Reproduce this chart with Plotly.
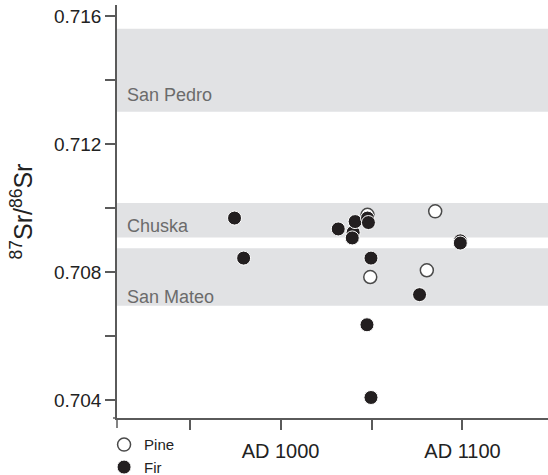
import plotly.graph_objects as go

# Data
pine_year = [1047.8, 1049.3, 1085.0, 1080.4]
pine_sr = [0.70979, 0.70785, 0.70990, 0.70806]

fir_year = [974.7, 979.7, 1031.7, 1039.9, 1039.4, 1041.0, 1047.8, 1048.3,
            1049.7, 1047.5, 1049.7, 1098.8, 1098.8, 1076.4]
fir_sr = [0.70969, 0.70844, 0.70935, 0.70924, 0.70907, 0.70958, 0.70969, 0.70955,
          0.70844, 0.70636, 0.70409, 0.70898, 0.70891, 0.70730]

band_names = ["San Pedro", "Chuska", "San Mateo"]
band_low = [0.71301, 0.70908, 0.70695]
band_high = [0.71560, 0.71016, 0.70875]
band_label_y = [0.71354, 0.70945, 0.70724]

x_tickvals = [950, 1000, 1050, 1100]
x_ticktext = ["", "AD 1000", "", "AD 1100"]
y_tickvals = [0.704, 0.706, 0.708, 0.710, 0.712, 0.714, 0.716]
y_ticktext = ["0.704", "", "0.708", "", "0.712", "", "0.716"]

FONT = "Liberation Sans, Arial, Helvetica, sans-serif"
AXIS = "#5a5a5a"

fig = go.Figure()

fig.add_trace(go.Scatter(
    x=pine_year, y=pine_sr, mode="markers", name="Pine",
    marker=dict(size=13, color="white", line=dict(color="#4a4a4a", width=1.5)),
))
fig.add_trace(go.Scatter(
    x=fir_year, y=fir_sr, mode="markers", name="Fir",
    marker=dict(size=14, color="#231f20", line=dict(color="white", width=1)),
))

shapes = []
for lo, hi in zip(band_low, band_high):
    shapes.append(dict(type="rect", xref="paper", yref="y", x0=0, x1=1, y0=lo, y1=hi,
                       fillcolor="#e1e2e4", line=dict(width=0), layer="below"))
# axis extensions (cross style corner)
shapes.append(dict(type="line", xref="paper", yref="paper", x0=-4 / 431, x1=0, y0=0, y1=0,
                   line=dict(color=AXIS, width=1.5)))
shapes.append(dict(type="line", xref="paper", yref="paper", x0=0, x1=0, y0=-10 / 413, y1=0,
                   line=dict(color=AXIS, width=1.5)))

annotations = []
for name, ly in zip(band_names, band_label_y):
    annotations.append(dict(xref="paper", yref="y", x=8 / 431, y=ly, text=name,
                            showarrow=False, xanchor="left", yanchor="middle",
                            font=dict(family=FONT, size=18, color="#6b6b6b")))

fig.update_layout(
    width=548, height=475,
    margin=dict(l=117, r=0, t=5, b=57, autoexpand=False),
    paper_bgcolor="white", plot_bgcolor="white",
    font=dict(family=FONT, color="#222222"),
    shapes=shapes, annotations=annotations,
    hovermode=False,
    showlegend=True,
    legend=dict(x=-0.03, y=-0.025, xanchor="left", yanchor="top",
                font=dict(family=FONT, size=15, color="#222222"),
                itemsizing="trace", tracegroupgap=0, bgcolor="rgba(0,0,0,0)"),
    xaxis=dict(range=[910.1, 1147], showgrid=False, zeroline=False,
               showline=True, linecolor=AXIS, linewidth=1.5,
               ticks="outside", ticklen=10, tickwidth=1.5, tickcolor=AXIS,
               tickvals=x_tickvals, ticktext=x_ticktext,
               tickfont=dict(family=FONT, size=20, color="#222222"),
               ticklabelstandoff=4),
    yaxis=dict(range=[0.70345, 0.71634], showgrid=False, zeroline=False,
               showline=True, linecolor=AXIS, linewidth=1.5,
               ticks="outside", ticklen=10, tickwidth=1.5, tickcolor=AXIS,
               tickvals=y_tickvals, ticktext=y_ticktext,
               tickfont=dict(family=FONT, size=19, color="#222222"),
               title=dict(text="<sup>87</sup>Sr/<sup>86</sup>Sr",
                          font=dict(family=FONT, size=25, color="#222222"),
                          standoff=14)),
)

fig.write_html("out.html", config={"displayModeBar": False},
               post_script="document.body.style.margin='0';")
